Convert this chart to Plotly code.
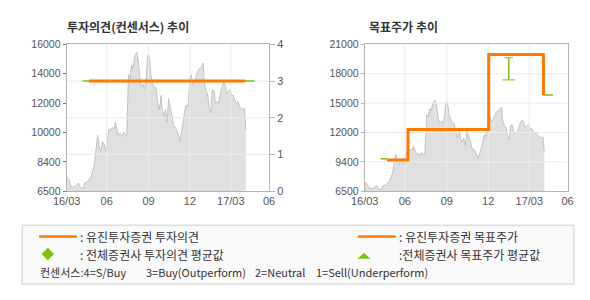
import plotly.graph_objects as go

W, H = 590, 300

# ---------------- data ----------------
dates = [
    "2016-03-05", "2016-03-10", "2016-03-13", "2016-03-17", "2016-03-24", "2016-03-31",
    "2016-04-03", "2016-04-07", "2016-04-10", "2016-04-14", "2016-04-21", "2016-04-28",
    "2016-05-02", "2016-05-05", "2016-05-09", "2016-05-12", "2016-05-16", "2016-05-19",
    "2016-05-23", "2016-05-27", "2016-05-30", "2016-06-03", "2016-06-06", "2016-06-10",
    "2016-06-13", "2016-06-17", "2016-06-20", "2016-06-24", "2016-06-27", "2016-07-01",
    "2016-07-05", "2016-07-08", "2016-07-12", "2016-07-15", "2016-07-17", "2016-07-19",
    "2016-07-22", "2016-07-26", "2016-07-29", "2016-08-02", "2016-08-06", "2016-08-09",
    "2016-08-13", "2016-08-16", "2016-08-20", "2016-08-23", "2016-08-27", "2016-08-30",
    "2016-09-01", "2016-09-04", "2016-09-06", "2016-09-10", "2016-09-13", "2016-09-17",
    "2016-09-20", "2016-09-24", "2016-09-27", "2016-09-29", "2016-10-01", "2016-10-05",
    "2016-10-08", "2016-10-12", "2016-10-15", "2016-10-19", "2016-10-23", "2016-10-26",
    "2016-10-30", "2016-11-02", "2016-11-06", "2016-11-09", "2016-11-13", "2016-11-16",
    "2016-11-20", "2016-11-23", "2016-11-27", "2016-12-01", "2016-12-04", "2016-12-07",
    "2016-12-11", "2016-12-15", "2016-12-18", "2016-12-22", "2016-12-25", "2016-12-29",
    "2016-12-31", "2017-01-01", "2017-01-05", "2017-01-09", "2017-01-12", "2017-01-16",
    "2017-01-19", "2017-01-23", "2017-01-26", "2017-01-30", "2017-02-02", "2017-02-06",
    "2017-02-09", "2017-02-13", "2017-02-16", "2017-02-20", "2017-02-24", "2017-02-27",
    "2017-03-03", "2017-03-06", "2017-03-10", "2017-03-13", "2017-03-17", "2017-03-20",
    "2017-03-24", "2017-03-28", "2017-03-31", "2017-04-02", "2017-04-03",
]
price = [
    7450, 7240, 6930, 6730, 6830, 7040,
    6830, 6730, 6620, 7040, 7140, 7450,
    7860, 8270, 9300, 10130, 9300, 9100,
    9710, 9510, 9100, 9920, 10540, 10440,
    10640, 10540, 10950, 10440, 10130, 10230,
    10020, 10330, 10130, 10130, 11980, 14040,
    13830, 14660, 14450, 15280, 15480, 15070,
    13830, 13220, 13420, 13110, 13830, 15280,
    15380, 14860, 14040, 13420, 13220, 13220,
    12500, 11770, 12190, 12700, 11670, 11360,
    11770, 10950, 12500, 11980, 11360, 10740,
    10640, 10440, 10130, 9760, 10330, 10950,
    11770, 12080, 11980, 13830, 14040, 13420,
    13530, 14040, 14250, 14450, 14450, 14760,
    14760, 13630, 13010, 12800, 11980, 11570,
    13010, 13010, 12190, 12290, 12190, 12800,
    13220, 13530, 13420, 12800, 13010, 13110,
    12700, 12700, 12390, 12190, 12290, 11980,
    11880, 11770, 11880, 10950, 10450,
]

# consensus (right axis of left chart, 4=S/Buy ... 1=Sell)
cons_dates = ["2016-04-23", "2017-04-01"]
cons_eugene = [3, 3]
cons_avg_dates = ["2016-04-09", "2017-04-22"]
cons_avg = [3, 3]

# target price (Eugene) step series
tp_dates = ["2016-04-23", "2016-06-08", "2016-12-02", "2017-04-01"]
tp_eugene = [9600, 12600, 20000, 16000]
# average target price of all brokers
tp_avg_dates = ["2016-04-09", "2016-04-23", None, "2017-04-01", "2017-04-22"]
tp_avg = [9700, 9700, None, 16000, 16000]
tp_range_date = ["2017-01-15", "2017-01-15"]
tp_range = [17500, 19700]

# axes
x_range = ["2016-03-05", "2017-05-24"]
x_tickvals = ["2016-03-05", "2016-06-01", "2016-09-01", "2016-12-01", "2017-03-01", "2017-05-24"]
x_ticktext = ["16/03", "06", "09", "12", "17/03", "06"]
grid_dates = ["2016-06-01", "2016-09-01", "2016-12-01", "2017-03-01"]

left_tickvals = [6500, 8400, 10300, 12200, 14100, 16000]
left_ticktext = ["6500", "8400", "10000", "12000", "14000", "16000"]
cons_tickvals = [0, 1, 2, 3, 4]
tp_tickvals = [6500, 9400, 12300, 15200, 18100, 21000]
tp_ticktext = ["6500", "9400", "12000", "15000", "18000", "21000"]

# ---------------- styling ----------------
ORANGE = "#ff7800"
GREEN = "#84bb1c"
FILL = "#e0e0e0"
PLINE = "#c2c2c2"
GRID = "#ececec"
AXLINE = "#b4b4b4"
TXT = "#555555"
KFONT = "Noto Sans CJK KR"
NFONT = "Liberation Sans"


def X(p):
    return p / W


def Y(p):
    return 1 - p / H


def grid_xy(xs, ys, x0, x1, y0, y1):
    gx, gy = [], []
    for v in ys:
        gx += [x0, x1, None]
        gy += [v, v, None]
    for d in xs:
        gx += [d, d, None]
        gy += [y0, y1, None]
    return gx, gy


fig = go.Figure()

# ---- left chart ----
fig.add_trace(go.Scatter(x=dates, y=price, xaxis="x", yaxis="y", mode="lines",
                         fill="tozeroy", fillcolor=FILL,
                         line=dict(color=PLINE, width=1), hoverinfo="skip"))
gx, gy = grid_xy(grid_dates, cons_tickvals[1:-1], x_range[0], x_range[1], 0, 4)
fig.add_trace(go.Scatter(x=gx, y=gy, xaxis="x", yaxis="y2", mode="lines",
                         line=dict(color=GRID, width=1), hoverinfo="skip"))
fig.add_trace(go.Scatter(x=cons_avg_dates, y=cons_avg, xaxis="x", yaxis="y2", mode="lines",
                         line=dict(color=GREEN, width=1.5)))
fig.add_trace(go.Scatter(x=cons_dates, y=cons_eugene, xaxis="x", yaxis="y2", mode="lines",
                         line=dict(color=ORANGE, width=3)))

# ---- right chart ----
fig.add_trace(go.Scatter(x=dates, y=price, xaxis="x2", yaxis="y3", mode="lines",
                         fill="tozeroy", fillcolor=FILL,
                         line=dict(color=PLINE, width=1), hoverinfo="skip"))
gx, gy = grid_xy(grid_dates, tp_tickvals[1:-1], x_range[0], x_range[1],
                 tp_tickvals[0], tp_tickvals[-1])
fig.add_trace(go.Scatter(x=gx, y=gy, xaxis="x2", yaxis="y3", mode="lines",
                         line=dict(color=GRID, width=1), hoverinfo="skip"))
fig.add_trace(go.Scatter(x=tp_avg_dates, y=tp_avg, xaxis="x2", yaxis="y3", mode="lines",
                         line=dict(color=GREEN, width=1.5), connectgaps=False))
fig.add_trace(go.Scatter(x=tp_dates, y=tp_eugene, xaxis="x2", yaxis="y3", mode="lines",
                         line=dict(color=ORANGE, width=3, shape="hv")))
fig.add_trace(go.Scatter(x=tp_range_date, y=tp_range, xaxis="x2", yaxis="y3",
                         mode="lines+markers",
                         line=dict(color=GREEN, width=1.5),
                         marker=dict(symbol="line-ew", size=[9, 6],
                                     line=dict(color=GREEN, width=1.5))))

plot_top, plot_bot = 40, 193
ydom = [Y(plot_bot), Y(plot_top)]

xcommon = dict(type="date", range=x_range, tickmode="array", tickvals=x_tickvals,
               ticktext=x_ticktext, showgrid=False, zeroline=False, showline=True,
               linecolor=AXLINE, linewidth=1, mirror=True, ticks="",
               tickfont=dict(family=NFONT, size=11, color=TXT))

fig.update_layout(
    width=W, height=H, margin=dict(l=0, r=0, t=0, b=0),
    paper_bgcolor="white", plot_bgcolor="white", showlegend=False,
    xaxis=dict(domain=[X(54.5), X(264)], anchor="y", **xcommon),
    xaxis2=dict(domain=[X(363), X(573)], anchor="y3", **xcommon),
    yaxis=dict(domain=ydom, anchor="x", range=[6500, 16000], tickmode="array",
               tickvals=left_tickvals, ticktext=left_ticktext, showgrid=False,
               zeroline=False, showline=True, linecolor=AXLINE, linewidth=1,
               ticks="outside", ticklen=3, tickcolor="#777777",
               tickfont=dict(family=NFONT, size=10.5, color=TXT)),
    yaxis2=dict(overlaying="y", side="right", anchor="x", range=[0, 4], tickmode="array",
                tickvals=cons_tickvals, showgrid=False, zeroline=False, showline=True,
                linecolor=AXLINE, linewidth=1, ticks="outside", ticklen=5,
                tickcolor=AXLINE, tickfont=dict(family=NFONT, size=11, color=TXT)),
    yaxis3=dict(domain=ydom, anchor="x2", range=[6500, 21000], tickmode="array",
                tickvals=tp_tickvals, ticktext=tp_ticktext, showgrid=False,
                zeroline=False, showline=True, linecolor=AXLINE, linewidth=1,
                mirror=True, ticks="outside", ticklen=3, tickcolor=AXLINE,
                tickfont=dict(family=NFONT, size=10.5, color=TXT)),
)

# ---- titles ----
titles = [("투자의견(컨센서스) 추이", 52.5), ("목표주가 추이", 365)]
for t, x in titles:
    fig.add_annotation(text="<b>" + t + "</b>", x=X(x), y=Y(21), xref="paper", yref="paper",
                       xanchor="left", yanchor="middle", align="left", showarrow=False,
                       font=dict(family=KFONT, size=12, color="#333333"))

# ---- legend box ----
shapes = [
    dict(type="rect", xref="paper", yref="paper", x0=X(8.5), x1=X(579.5),
         y0=Y(289.5), y1=Y(228.5), fillcolor="#fafafa",
         line=dict(color="#dddddd", width=1.5), layer="below"),
    dict(type="line", xref="paper", yref="paper", x0=X(26), x1=X(65), y0=Y(240), y1=Y(240),
         line=dict(color=ORANGE, width=2.5)),
    dict(type="line", xref="paper", yref="paper", x0=X(356), x1=X(395), y0=Y(240), y1=Y(240),
         line=dict(color=ORANGE, width=2.5)),
    dict(type="path", xref="paper", yref="paper",
         path=f"M {X(35)},{Y(251.8)} L {X(41.5)},{Y(258.3)} L {X(35)},{Y(264.8)} L {X(28.5)},{Y(258.3)} Z",
         fillcolor="#7cc20a", line=dict(width=0)),
    dict(type="path", xref="paper", yref="paper",
         path=f"M {X(355.5)},{Y(263.3)} L {X(369)},{Y(263.3)} L {X(362.3)},{Y(257.3)} Z",
         fillcolor="#7cc20a", line=dict(width=0)),
]
fig.update_layout(shapes=shapes)

legend_texts = [
    (": 유진투자증권 투자의견", 66.5, 240, 12),
    (": 전체증권사 투자의견 평균값", 66.5, 258.5, 12),
    (": 유진투자증권 목표주가", 396, 240, 12),
    (":전체증권사 목표주가 평균값", 396, 258.5, 12),
    ("컨센서스:4=S/Buy", 24.7, 277, 11),
    ("3=Buy(Outperform)", 135, 277, 11),
    ("2=Neutral", 247, 277, 11),
    ("1=Sell(Underperform)", 310.4, 277, 11),
]
for t, x, y, s in legend_texts:
    fig.add_annotation(text=t, x=X(x), y=Y(y), xref="paper", yref="paper",
                       xanchor="left", yanchor="middle", align="left", showarrow=False,
                       font=dict(family=KFONT, size=s, color="#333333"))

fig.write_html("out.html")
